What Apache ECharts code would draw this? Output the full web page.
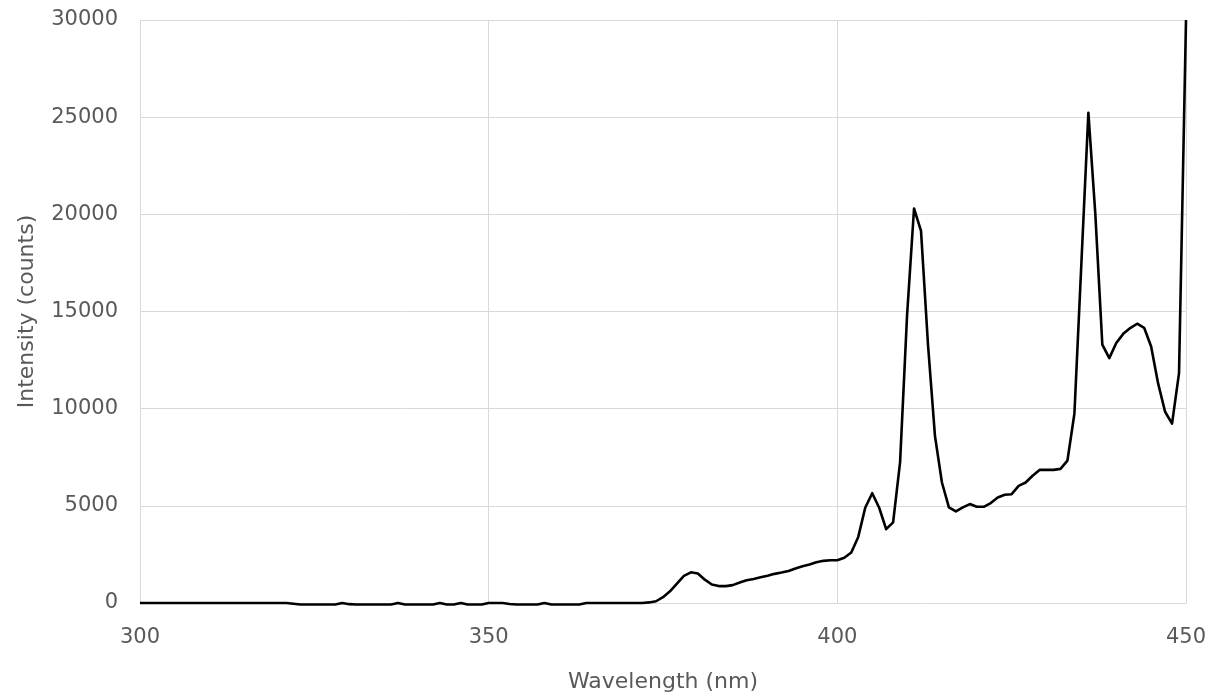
<!DOCTYPE html>
<html>
<head>
<meta charset="utf-8">
<script src="https://cdn.jsdelivr.net/npm/echarts@6/dist/echarts.min.js"></script>
<style>
html,body{margin:0;padding:0;background:#fff;}
#chart{width:1220px;height:700px;}
</style>
</head>
<body>
<div id="chart"></div>
<script>
const xTitle = "Wavelength (nm)";
const yTitle = "Intensity (counts)";
const xTicks = [300, 350, 400, 450];
const yTicks = [0, 5000, 10000, 15000, 20000, 25000, 30000];

const wavelengths = [
  300,301,302,303,304,305,306,307,308,309,
  310,311,312,313,314,315,316,317,318,319,
  320,321,322,323,324,325,326,327,328,329,
  330,331,332,333,334,335,336,337,338,339,
  340,341,342,343,344,345,346,347,348,349,
  350,351,352,353,354,355,356,357,358,359,
  360,361,362,363,364,365,366,367,368,369,
  370,371,372,373,374,375,376,377,378,379,
  380,381,382,383,384,385,386,387,388,389,
  390,391,392,393,394,395,396,397,398,399,
  400,401,402,403,404,405,406,407,408,409,
  410,411,412,413,414,415,416,417,418,419,
  420,421,422,423,424,425,426,427,428,429,
  430,431,432,433,434,435,436,437,438,439,
  440,441,442,443,444,445,446,447,448,449,
  450
];

const intensity = [
  0,0,0,0,0,0,0,0,0,0,
  0,0,0,0,0,0,0,0,0,0,
  0,0,-40,-80,-80,-80,-80,-80,-80,0,
  -60,-80,-80,-80,-80,-80,-80,0,-80,-80,
  -80,-80,-80,0,-80,-80,0,-80,-80,-80,
  0,0,0,-50,-80,-80,-80,-80,0,-80,
  -80,-80,-80,-80,0,0,0,0,0,0,
  0,0,0,30,90,300,600,1000,1400,1580,
  1520,1200,950,870,870,920,1050,1170,1240,1320,
  1400,1500,1570,1650,1780,1890,1980,2100,2170,2200,
  2200,2330,2600,3400,4900,5650,4900,3800,4150,7250,
  14800,20300,19150,13300,8600,6200,4920,4710,4920,5090,
  4950,4950,5140,5430,5570,5600,6030,6200,6550,6850,
  6850,6850,6900,7330,9750,17500,25230,20000,13300,12600,
  13380,13850,14150,14370,14160,13200,11300,9840,9230,11830,
  30000
];

const seriesData = wavelengths.map((w, i) => [w, intensity[i]]);

const chart = echarts.init(document.getElementById('chart'), null, {renderer: 'canvas'});
const font = 'DejaVu Sans';
const textColor = '#595959';
const gridColor = '#d9d9d9';

chart.setOption({
  animation: false,
  backgroundColor: '#ffffff',
  grid: {left: 140, right: 34, top: 20, bottom: 97, containLabel: false},
  xAxis: {
    type: 'value',
    min: xTicks[0],
    max: xTicks[xTicks.length - 1],
    interval: xTicks[1] - xTicks[0],
    name: xTitle,
    nameLocation: 'middle',
    nameGap: 68,
    nameTextStyle: {fontFamily: font, fontSize: 22, color: textColor},
    axisLine: {show: true, lineStyle: {color: gridColor, width: 1}},
    axisTick: {show: false},
    axisLabel: {fontFamily: font, fontSize: 21, color: textColor, margin: 24,
      formatter: v => String(v)},
    splitLine: {show: true, lineStyle: {color: gridColor, width: 1}}
  },
  yAxis: {
    type: 'value',
    min: yTicks[0],
    max: yTicks[yTicks.length - 1],
    interval: yTicks[1] - yTicks[0],
    name: yTitle,
    nameLocation: 'middle',
    nameGap: 102,
    nameTextStyle: {fontFamily: font, fontSize: 22, color: textColor},
    axisLine: {show: false},
    axisTick: {show: false},
    axisLabel: {fontFamily: font, fontSize: 21, color: textColor, margin: 22,
      formatter: v => String(v)},
    splitLine: {show: true, lineStyle: {color: gridColor, width: 1}}
  },
  series: [{
    type: 'line',
    data: seriesData,
    showSymbol: false,
    symbol: 'none',
    clip: false,
    smooth: false,
    lineStyle: {color: '#000000', width: 2.6, join: 'round'}
  }]
});
</script>
</body>
</html>
